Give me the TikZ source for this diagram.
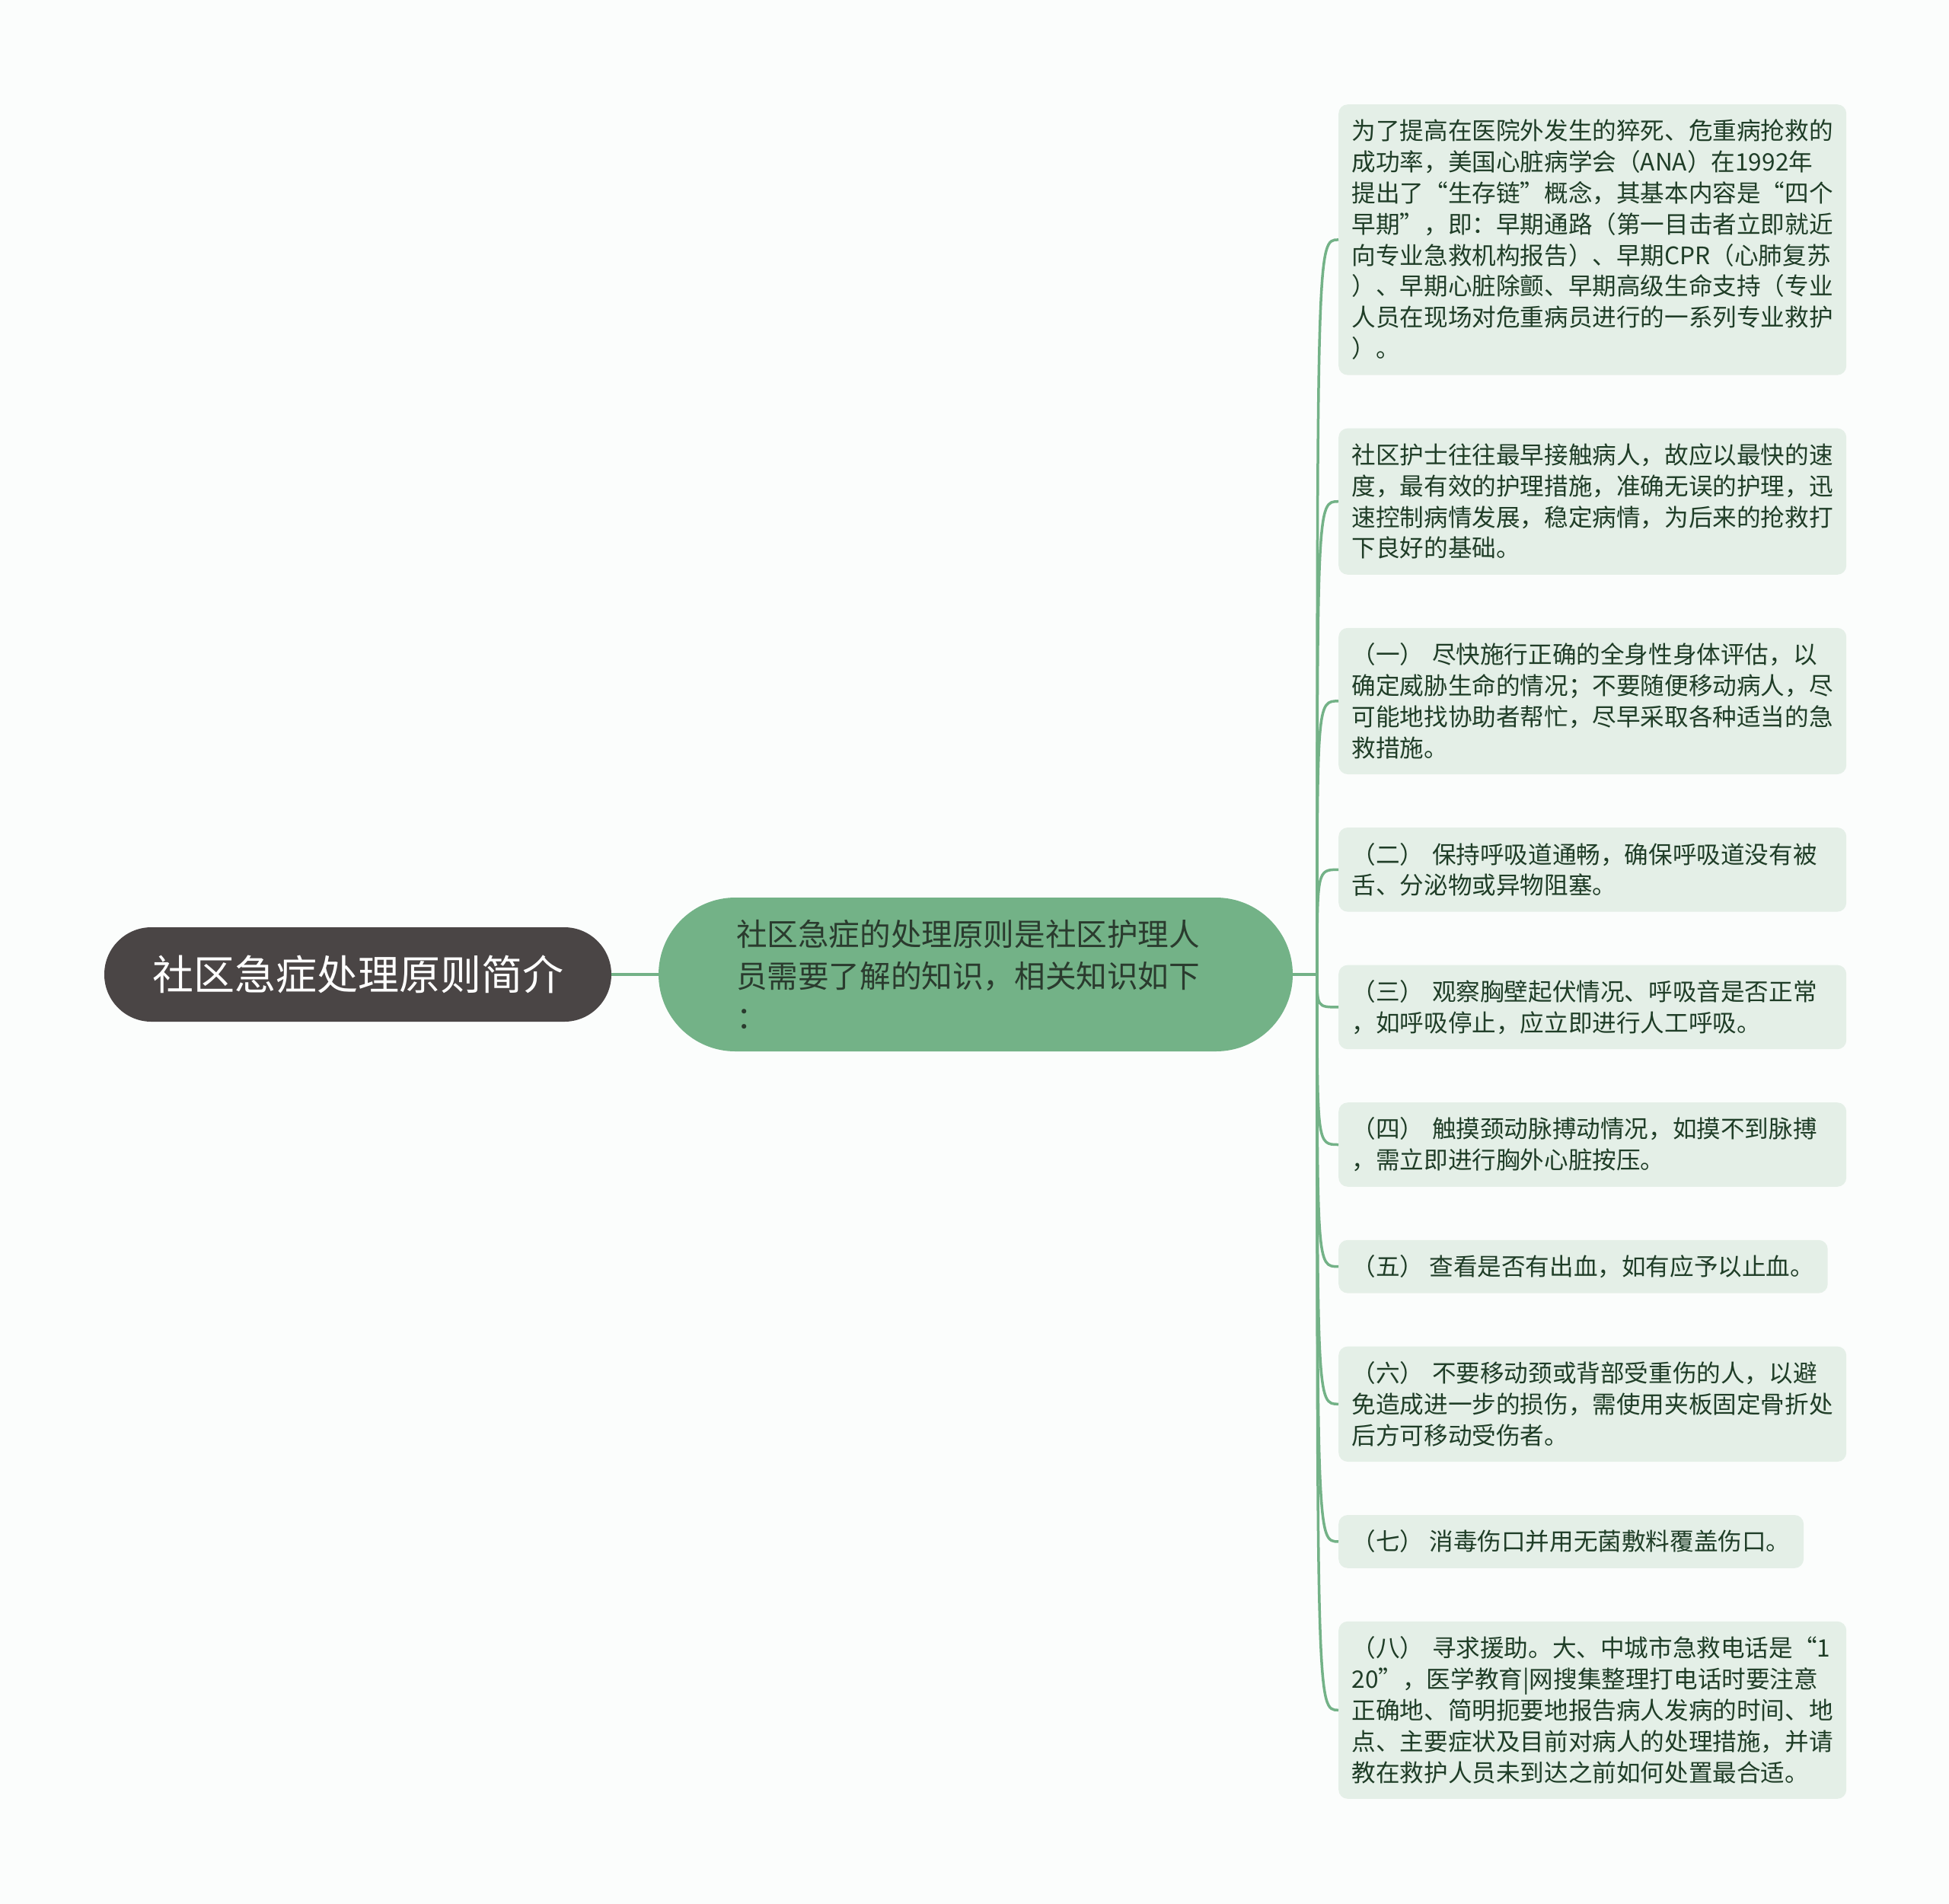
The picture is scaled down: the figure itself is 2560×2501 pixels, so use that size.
\documentclass[tikz,border=0pt]{standalone}
\usepackage{fontspec}
\setmainfont{Noto Sans CJK SC}
\definecolor{bgc}{HTML}{FBFDFC}
\definecolor{rootfill}{HTML}{4A4545}
\definecolor{midfill}{HTML}{73B287}
\definecolor{linegreen}{HTML}{73B287}
\definecolor{leaffill}{HTML}{E4EFE7}
\definecolor{leaftext}{HTML}{1F3D27}
\definecolor{midtext}{HTML}{2A3B2E}
\tikzset{
  leafbox/.style={fill=leaffill, rounded corners=12pt, inner xsep=17.5pt, inner ysep=0pt,
    anchor=north west, font=\fontsize{31.6pt}{40.8pt}\selectfont, text=leaftext, align=left},
  wrapped/.style={text width=632pt},
  rootbox/.style={fill=rootfill, rounded corners=61.9pt, minimum width=666pt, minimum height=124pt,
    inner sep=0pt, text=white, font=\fontsize{54pt}{60pt}\selectfont},
  midbox/.style={fill=midfill, rounded corners=100.9pt, minimum height=202pt, inner ysep=0pt,
    inner xsep=102pt, text width=629pt, align=left, text=midtext,
    font=\fontsize{40.6pt}{54.7pt}\selectfont},
  conn/.style={draw=linegreen, line width=4pt},
  branch/.style={draw=linegreen, line width=3.5pt}
}
\begin{document}
\begin{tikzpicture}[x=1pt,y=-1pt]
\fill[bgc] (0,0) rectangle (2560,2501);
\useasboundingbox (0,0) rectangle (2560,2501);

\node[rootbox] (root) at (470,1280) {社区急症处理原则简介};
\node[midbox] (mid) at (1281.5,1280) {社区急症的处理原则是社区护理人\\员需要了解的知识，相关知识如下\\：};
\coordinate (hub) at (1730,1280);

\node[leafbox, wrapped, minimum height=355.4pt] (l1) at (1758,137) {为了提高在医院外发生的猝死、危重病抢救的\\成功率，美国心脏病学会（ANA）在1992年\\提出了“生存链”概念，其基本内容是“四个\\早期”，即：早期通路（第一目击者立即就近\\向专业急救机构报告）、早期CPR（心肺复苏\\）、早期心脏除颤、早期高级生命支持（专业\\人员在现场对危重病员进行的一系列专业救护\\）。};
\node[leafbox, wrapped, minimum height=192.2pt] (l2) at (1758,562.4) {社区护士往往最早接触病人，故应以最快的速\\度，最有效的护理措施，准确无误的护理，迅\\速控制病情发展，稳定病情，为后来的抢救打\\下良好的基础。};
\node[leafbox, wrapped, minimum height=192.2pt] (l3) at (1758,824.6) {（一）~尽快施行正确的全身性身体评估，以\\确定威胁生命的情况；不要随便移动病人，尽\\可能地找协助者帮忙，尽早采取各种适当的急\\救措施。};
\node[leafbox, wrapped, minimum height=110.6pt] (l4) at (1758,1086.8) {（二）~保持呼吸道通畅，确保呼吸道没有被\\舌、分泌物或异物阻塞。};
\node[leafbox, wrapped, minimum height=110.6pt] (l5) at (1758,1267.4) {（三）~观察胸壁起伏情况、呼吸音是否正常\\，如呼吸停止，应立即进行人工呼吸。};
\node[leafbox, wrapped, minimum height=110.6pt] (l6) at (1758,1448) {（四）~触摸颈动脉搏动情况，如摸不到脉搏\\，需立即进行胸外心脏按压。};
\node[leafbox, minimum height=69.8pt] (l7) at (1758,1628.6) {（五）~查看是否有出血，如有应予以止血。};
\node[leafbox, wrapped, minimum height=151.4pt] (l8) at (1758,1768.4) {（六）~不要移动颈或背部受重伤的人，以避\\免造成进一步的损伤，需使用夹板固定骨折处\\后方可移动受伤者。};
\node[leafbox, minimum height=69.8pt] (l9) at (1758,1989.8) {（七）~消毒伤口并用无菌敷料覆盖伤口。};
\node[leafbox, wrapped, minimum height=233pt] (l10) at (1758,2129.6) {（八）~寻求援助。大、中城市急救电话是“1\\20”，医学教育|网搜集整理打电话时要注意\\正确地、简明扼要地报告病人发病的时间、地\\点、主要症状及目前对病人的处理措施，并请\\教在救护人员未到达之前如何处置最合适。};

\draw[conn] (root.east) -- (mid.west);
\draw[conn] (mid.east) -- (hub);
\foreach \l in {l1,l2,l3,l4,l5,l6,l7,l8,l9,l10}
  \draw[branch] (hub) .. controls (hub |- \l.west) .. (\l.west);
\end{tikzpicture}
\end{document}
